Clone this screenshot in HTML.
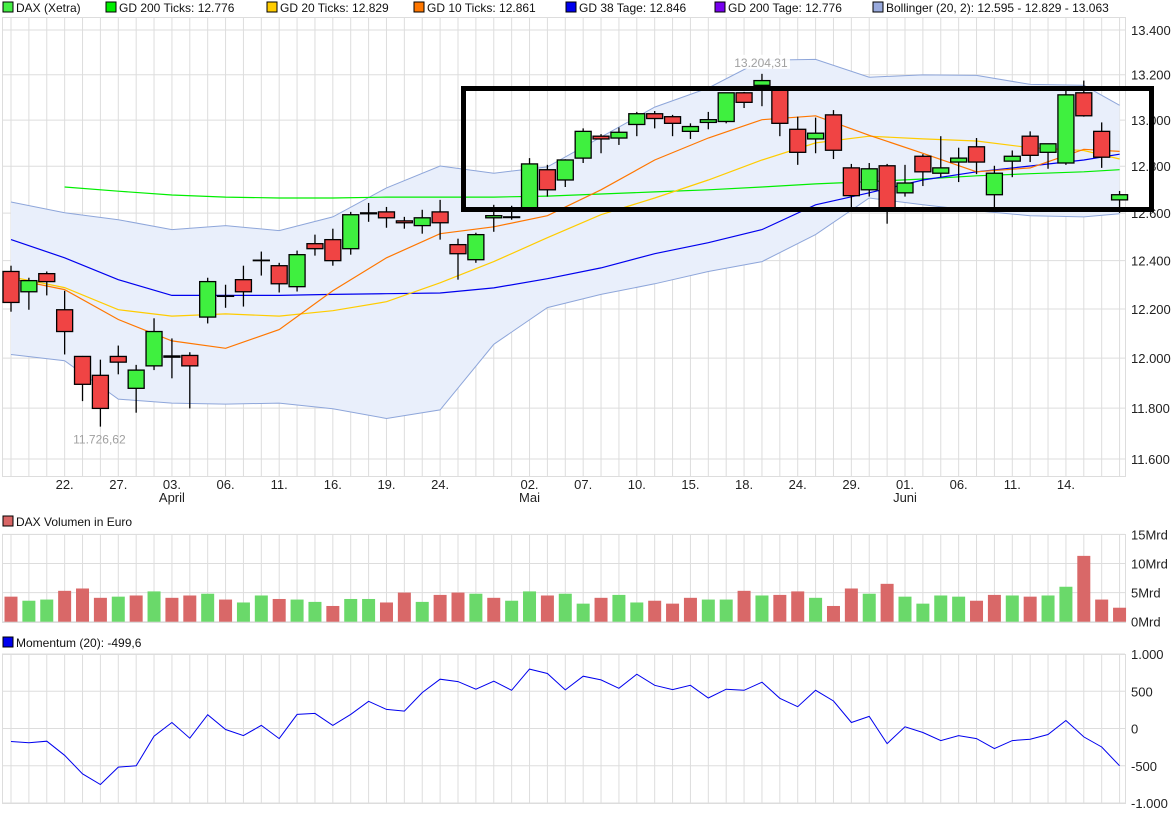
<!DOCTYPE html>
<html><head><meta charset="utf-8">
<style>
html,body{margin:0;padding:0;background:#fff;}
svg{display:block;font-family:"Liberation Sans",Arial,sans-serif;}
</style></head>
<body>
<svg id="chart" width="1175" height="815" viewBox="0 0 1175 815" xmlns="http://www.w3.org/2000/svg">
<g id="legend" font-size="12" fill="#111">
  <rect x="3" y="2" width="10" height="10" fill="#44ee44" stroke="#000"/>
  <text x="16" y="12">DAX (Xetra)</text>
  <rect x="106" y="2" width="10" height="10" fill="#00ee00" stroke="#000"/>
  <text x="119" y="12">GD 200 Ticks: 12.776</text>
  <rect x="267" y="2" width="10" height="10" fill="#ffcc00" stroke="#000"/>
  <text x="280" y="12">GD 20 Ticks: 12.829</text>
  <rect x="414" y="2" width="10" height="10" fill="#ff7700" stroke="#000"/>
  <text x="427" y="12">GD 10 Ticks: 12.861</text>
  <rect x="566" y="2" width="10" height="10" fill="#0000ee" stroke="#000"/>
  <text x="579" y="12">GD 38 Tage: 12.846</text>
  <rect x="715" y="2" width="10" height="10" fill="#7700ee" stroke="#000"/>
  <text x="728" y="12">GD 200 Tage: 12.776</text>
  <rect x="873" y="2" width="10" height="10" fill="#99aadd" stroke="#000"/>
  <text x="886" y="12">Bollinger (20, 2): 12.595 - 12.829 - 13.063</text>
  <rect x="3" y="516" width="10" height="10" fill="#d96666" stroke="#000"/>
  <text x="16" y="526">DAX Volumen in Euro</text>
  <rect x="3" y="637" width="10" height="10" fill="#0000ee" stroke="#000"/>
  <text x="16" y="647">Momentum (20): -499,6</text>
</g>
<g id="grid"></g>
<g id="band"></g>
<g id="lines"></g>
<g id="candles"></g>
<g id="vol"></g>
<g id="mom"></g>
<g id="axes" font-size="13" fill="#222"></g>
<g id="annot"></g>
</svg>
<script>
// ---- data ----
const opens  = [12355,12271,12346,12197,12007,11931,12007,11879,11969,12009,12011,12167,12252,12321,12400,12379,12292,12471,12488,12450,12601,12605,12567,12547,12605,12467,12404,12580,12581,12618,12785,12741,12835,12930,12922,12981,13028,13015,12951,12990,12994,13120,13153,13145,12960,12918,13023,12793,12699,12802,12686,12843,12770,12818,12884,12678,12822,12930,12860,12814,13120,12951,12656];
const highs  = [12379,12329,12355,12275,12009,11994,12051,11973,12162,12080,12024,12329,12300,12379,12438,12391,12442,12509,12534,12605,12643,12626,12584,12614,12656,12492,12517,12635,12631,12835,12806,12830,12964,12939,12968,13036,13040,13023,12986,13036,13120,13124,13204,13145,13015,13011,13044,12810,12814,12810,12806,12852,12930,12880,12922,12802,12868,12951,12897,13132,13174,12990,12694];
const lows   = [12189,12197,12256,12015,11828,11727,11935,11782,11952,11919,11799,12141,12205,12210,12338,12268,12272,12421,12379,12425,12563,12538,12534,12513,12488,12321,12391,12521,12572,12609,12670,12711,12814,12856,12892,12930,12964,12930,12918,12960,12986,13053,13061,12930,12806,12856,12831,12622,12670,12555,12670,12715,12753,12732,12766,12622,12753,12818,12789,12806,13015,12793,12601];
const closes = [12227,12317,12313,12108,11895,11799,11984,11952,12108,12004,11969,12313,12254,12271,12402,12304,12425,12450,12400,12593,12597,12580,12559,12580,12559,12429,12509,12589,12584,12810,12699,12827,12951,12918,12947,13028,13007,12986,12972,13002,13120,13078,13174,12986,12860,12943,12869,12674,12789,12622,12728,12776,12793,12835,12818,12770,12843,12847,12897,13111,13019,12839,12678];
const volumes = [4.3,3.6,3.8,5.3,5.7,4.1,4.3,4.5,5.2,4.1,4.5,4.8,3.8,3.3,4.5,3.9,3.8,3.4,2.7,3.9,3.9,3.3,5.0,3.4,4.6,5.0,4.8,4.1,3.6,5.2,4.5,4.8,3.1,4.1,4.6,3.3,3.6,3.1,4.1,3.8,3.8,5.3,4.5,4.6,5.2,4.1,2.7,5.7,4.8,6.5,4.3,3.1,4.5,4.3,3.6,4.6,4.5,4.3,4.5,6.0,11.3,3.8,2.4];
const volumeUp = [0,1,1,0,0,0,1,0,1,0,0,1,0,1,1,0,1,1,0,1,1,0,0,1,0,0,1,0,1,1,0,1,1,0,1,1,0,0,0,1,1,0,1,0,0,1,0,0,1,0,1,1,1,1,0,0,1,0,1,1,0,0,0];
const momentum = [-175,-190,-171,-360,-608,-752,-518,-500,-104,81,-130,185,-14,-95,41,-135,189,203,41,189,365,257,234,482,662,630,527,635,513,797,738,518,702,652,540,729,580,522,580,410,527,513,621,405,293,513,369,81,162,-203,23,-54,-162,-95,-135,-270,-162,-144,-81,108,-113,-248,-500];
const maIdx = [0,3,6,9,12,15,18,21,24,27,30,33,36,39,42,45,48,51,54,57,60,62];
const gd20  = [12333,12288,12197,12171,12180,12171,12193,12230,12308,12396,12496,12593,12664,12741,12827,12901,12930,12918,12909,12880,12868,12831];
const gd10  = [12325,12280,12157,12070,12040,12116,12275,12412,12513,12542,12589,12699,12827,12922,13002,13019,12934,12856,12776,12793,12873,12864];
const gd38  = [12488,12412,12321,12256,12256,12256,12260,12263,12266,12287,12325,12370,12429,12475,12530,12635,12686,12741,12776,12801,12827,12852];
const gd200Idx = [3,6,9,12,15,18,21,24,27,30,33,36,39,42,45,48,51,54,57,60,62];
const gd200 = [12711,12693,12677,12668,12664,12664,12668,12668,12668,12672,12681,12690,12699,12711,12724,12734,12745,12759,12768,12776,12785];
const bbUpper = [12647,12601,12572,12530,12547,12526,12584,12707,12801,12770,12797,12926,13057,13141,13264,13268,13189,13199,13197,13157,13153,13065];
const bbLower = [12015,11990,11836,11820,11816,11820,11798,11759,11793,12056,12206,12260,12304,12355,12396,12509,12664,12635,12610,12589,12584,12597];
const priceTicks = [13400,13200,13000,12800,12600,12400,12200,12000,11800,11600];
const priceTickLabels = ["13.400","13.200","13.000","12.800","12.600","12.400","12.200","12.000","11.800","11.600"];
const volTicks = [0,5,10,15];
const volTickLabels = ["0Mrd","5Mrd","10Mrd","15Mrd"];
const momTicks = [1000,500,0,-500,-1000];
const momTickLabels = ["1.000","500","0","-500","-1.000"];
const dayIdx = [3,6,9,12,15,18,21,24,29,32,35,38,41,44,47,50,53,56,59];
const dayLabels = ["22.","27.","03.","06.","11.","16.","19.","24.","02.","07.","10.","15.","18.","24.","29.","01.","06.","11.","14."];
const monthIdx = [9,29,50];
const monthLabels = ["April","Mai","Juni"];

// ---- scales ----
const NS = "http://www.w3.org/2000/svg";
const X0 = 11, DX = 17.88;
function xs(i){ return X0 + DX*i; }
function yp(v){ return 30 + 2974*Math.log(13400/v); }
function yv(v){ return 621.7 - v*5.825; }
function ym(v){ return 728.5 - v*0.0745; }
function mk(tag, attrs, parent){
  const e = document.createElementNS(NS, tag);
  for (const k in attrs) e.setAttribute(k, attrs[k]);
  parent.appendChild(e);
  return e;
}
const grid = document.getElementById('grid');
const axes = document.getElementById('axes');
const N = closes.length;
const panels = [[17,476],[534,622],[654,803]];
panels.forEach(function(p){
  for (let i=0;i<N;i++){
    const l = mk('line',{x1:xs(i),x2:xs(i),y1:p[0],y2:p[1],stroke:'#dddddd','stroke-width':1},grid);
    
    
  }
  const f = mk('rect',{x:2.5,y:p[0]+0.5,width:1123,height:p[1]-p[0],fill:'none',stroke:'#dddddd','stroke-width':1},grid);
  
  
});
priceTicks.forEach(function(v,k){
  const y = yp(v);
  const l = mk('line',{x1:2,x2:1125,y1:y,y2:y,stroke:'#dddddd','stroke-width':1},grid);
  
  
  const t = mk('text',{x:1131,y:y+5},axes);
  t.textContent = priceTickLabels[k];
  
  
});
volTicks.forEach(function(v,k){
  const y = yv(v);
  const l = mk('line',{x1:2,x2:1125,y1:y,y2:y,stroke:'#dddddd','stroke-width':1},grid);
  
  
  const t = mk('text',{x:1131,y:y+5},axes);
  t.textContent = volTickLabels[k];
  
  
});
momTicks.forEach(function(v,k){
  const y = ym(v);
  const l = mk('line',{x1:2,x2:1125,y1:y,y2:y,stroke:'#dddddd','stroke-width':1},grid);
  
  
  const t = mk('text',{x:1131,y:y+5},axes);
  t.textContent = momTickLabels[k];
  
  
});
dayIdx.forEach(function(i,k){
  const t = mk('text',{x:xs(i),y:489,'text-anchor':'middle'},axes);
  t.textContent = dayLabels[k];
  
  
});
monthIdx.forEach(function(i,k){
  const t = mk('text',{x:xs(i),y:502,'text-anchor':'middle'},axes);
  t.textContent = monthLabels[k];
  
  
});

// Bollinger band
const band = document.getElementById('band');
let up = maIdx.map(function(i,k){return xs(i).toFixed(1)+','+yp(bbUpper[k]).toFixed(1);});
let lo = maIdx.map(function(i,k){return xs(i).toFixed(1)+','+yp(bbLower[k]).toFixed(1);});
const area = mk('polygon',{points:up.concat(lo.slice().reverse()).join(' '),fill:'#e9effb',stroke:'none'},band);


const ul = mk('polyline',{points:up.join(' '),fill:'none',stroke:'#8ea6da','stroke-width':1},band);


const ll = mk('polyline',{points:lo.join(' '),fill:'none',stroke:'#8ea6da','stroke-width':1},band);



// moving averages
const linesG = document.getElementById('lines');
function drawLine(idx, vals, color, name){
  const pts = idx.map(function(i,k){return xs(i).toFixed(1)+','+yp(vals[k]).toFixed(1);}).join(' ');
  const p = mk('polyline',{points:pts,fill:'none',stroke:color,'stroke-width':1.2},linesG);
  
  
}
drawLine(gd200Idx, gd200, '#00ee00', 'gd200-line');
drawLine(maIdx, gd38, '#0000ee', 'gd38-line');
drawLine(maIdx, gd20, '#ffcc00', 'gd20-line');
drawLine(maIdx, gd10, '#ff7700', 'gd10-line');

// candles
const cg = document.getElementById('candles');
for (let i=0;i<N;i++){
  const x = xs(i);
  const w = mk('line',{x1:x,x2:x,y1:yp(highs[i]),y2:yp(lows[i]),stroke:'#000','stroke-width':1.3},cg);
  
  
  const top = yp(Math.max(opens[i],closes[i]));
  const bot = yp(Math.min(opens[i],closes[i]));
  const upC = closes[i] >= opens[i];
  const b = mk('rect',{x:x-8,y:top,width:16,height:Math.max(0.5,bot-top),fill:upC?'#3ff03f':'#f04444',stroke:'#000','stroke-width':1.3},cg);
  
  
}

// volume
const vg = document.getElementById('vol');
for (let i=0;i<N;i++){
  const y = yv(volumes[i]);
  const r = mk('rect',{x:xs(i)-6.5,y:y,width:13,height:yv(0)-y,fill:volumeUp[i]?'#6ad96a':'#d96868'},vg);
  
  
}

// momentum
const mg = document.getElementById('mom');
const mp = mk('polyline',{points:momentum.map(function(v,i){return xs(i).toFixed(1)+','+ym(v).toFixed(1);}).join(' '),fill:'none',stroke:'#0000ee','stroke-width':1},mg);



// annotations
const an = document.getElementById('annot');
const rect = mk('rect',{x:463.5,y:88.5,width:1688-1000+-1+0,height:121,fill:'none',stroke:'#000','stroke-width':5},an);
rect.setAttribute('width', 1151.5-463.5);


let iMin = lows.indexOf(Math.min.apply(null,lows));
let iMax = highs.indexOf(Math.max.apply(null,highs));
const bgMax = mk('rect',{x:xs(iMax)-30,y:yp(highs[iMax])-19,width:58,height:14,fill:'#fff',opacity:0.9},an);


const tMax = mk('text',{x:xs(iMax)-1,y:yp(highs[iMax])-7,'text-anchor':'middle','font-size':12,fill:'#a0a0a0'},an);
tMax.textContent = '13.204,31';


const tMin = mk('text',{x:xs(iMin)-1,y:yp(lows[iMin])+17,'text-anchor':'middle','font-size':12,fill:'#a0a0a0'},an);
tMin.textContent = '11.726,62';


</script>
</body></html>
